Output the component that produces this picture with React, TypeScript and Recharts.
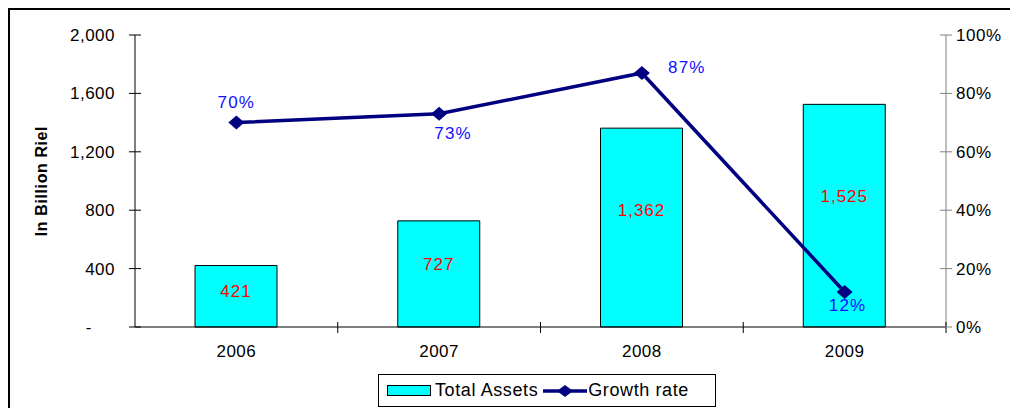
import { Bar, ComposedChart, LabelList, Line, XAxis, YAxis } from "recharts";

const years = ["2006", "2007", "2008", "2009"];
const totalAssets = [421, 727, 1362, 1525];
const growthRate = [70, 73, 87, 12];
const assetTicks = [0, 400, 800, 1200, 1600, 2000];
const rateTicks = [0, 20, 40, 60, 80, 100];

const data = years.map((year, i) => ({ year, assets: totalAssets[i], growth: growthRate[i] }));

// placement of growth labels, as in the original sheet
const rateLabelPos = ["above", "belowRight", "right", "below"];

const W = 1008;
const H = 357;
const PLOT_LEFT = 125;
const PLOT_RIGHT = 936;
const PLOT_BOTTOM = 317;
const FONT = "'Liberation Sans', Arial, sans-serif";
const TICK_FONT = { fontSize: 17, letterSpacing: 0.5, fontFamily: FONT };

const fmt = (v: number) => v.toLocaleString("en-US");

function LeftTick({ y, payload }: any) {
  const v = payload.value as number;
  return (
    <g>
      <line x1={PLOT_LEFT - 6} x2={PLOT_LEFT + 6} y1={y} y2={y} stroke="#000" />
      <text
        x={v === 0 ? PLOT_LEFT - 43 : PLOT_LEFT - 20}
        y={y}
        dy={6}
        textAnchor="end"
        fill="#000"
        style={TICK_FONT}
      >
        {v === 0 ? "-" : fmt(v)}
      </text>
    </g>
  );
}

function RightTick({ y, payload }: any) {
  return (
    <g>
      <line x1={PLOT_RIGHT - 6} x2={PLOT_RIGHT + 6} y1={y} y2={y} stroke="#808080" />
      <text x={PLOT_RIGHT + 10} y={y} dy={6} textAnchor="start" fill="#000" style={TICK_FONT}>
        {payload.value}%
      </text>
    </g>
  );
}

function YearTick({ x, payload }: any) {
  const band = (PLOT_RIGHT - PLOT_LEFT) / years.length;
  const bx = x + band / 2;
  return (
    <g>
      <line x1={bx} x2={bx} y1={PLOT_BOTTOM - 5} y2={PLOT_BOTTOM + 6} stroke="#000" />
      <text x={x} y={PLOT_BOTTOM + 30} textAnchor="middle" fill="#000" style={TICK_FONT}>
        {payload.value}
      </text>
    </g>
  );
}

function Diamond({ cx, cy }: any) {
  if (cx == null || cy == null) return null;
  return <polygon points={`${cx - 8},${cy} ${cx},${cy - 7} ${cx + 8},${cy} ${cx},${cy + 7}`} fill="#000080" />;
}

function AssetLabel({ x, y, width, height, value }: any) {
  return (
    <text
      x={x + width / 2}
      y={y + height * 0.41 + 6}
      textAnchor="middle"
      fill="#FF0000"
      style={{ fontSize: 17, letterSpacing: 1, fontFamily: FONT }}
    >
      {fmt(value)}
    </text>
  );
}

function RateLabel({ x, y, value, index }: any) {
  const pos = rateLabelPos[index];
  let dx = 0;
  let dy = 0;
  if (pos === "above") dy = -21;
  if (pos === "belowRight") {
    dx = 14;
    dy = 19;
  }
  if (pos === "right") {
    dx = 45;
    dy = -6;
  }
  if (pos === "below") {
    dx = 3;
    dy = 13;
  }
  return (
    <text
      x={x + dx}
      y={y + dy + 6}
      textAnchor="middle"
      fill="#1010FF"
      style={{ fontSize: 17, letterSpacing: 1.2, fontFamily: FONT }}
    >
      {value}%
    </text>
  );
}

function YTitle({ viewBox }: any) {
  const cy = viewBox.y + viewBox.height / 2;
  return (
    <text
      x={37}
      y={cy}
      transform={`rotate(-90, 37, ${cy})`}
      textAnchor="middle"
      fontWeight="bold"
      fill="#000"
      style={{ fontSize: 16, letterSpacing: 0.6, fontFamily: FONT }}
    >
      In Billion Riel
    </text>
  );
}

function ChartLegend() {
  return (
    <div
      style={{
        position: "absolute",
        left: 368,
        top: 364,
        width: 338,
        height: 33,
        border: "1px solid #000",
        background: "#fff",
        display: "flex",
        alignItems: "center",
        fontFamily: FONT,
        fontSize: 18,
        letterSpacing: 0.6,
        color: "#000",
        boxSizing: "border-box",
        paddingLeft: 8,
      }}
    >
      <span style={{ display: "inline-block", width: 42, height: 9, background: "#00FFFF", border: "1px solid #000" }} />
      <span style={{ marginLeft: 4 }}>Total Assets</span>
      <svg width={44} height={16} style={{ marginLeft: 5 }}>
        <line x1={0} x2={44} y1={8} y2={8} stroke="#000080" strokeWidth={3.5} />
        <polygon points="14,8 22,2 30,8 22,14" fill="#000080" />
      </svg>
      <span style={{ marginLeft: 1 }}>Growth rate</span>
    </div>
  );
}

export default function App() {
  return (
    <div
      style={{
        position: "relative",
        width: 1010,
        height: 400,
        borderLeft: "2px solid #000",
        borderTop: "2px solid #000",
        fontFamily: FONT,
      }}
    >
      <ComposedChart width={W} height={H} data={data} margin={{ top: 25, right: 0, bottom: 0, left: 0 }}>
        <XAxis
          dataKey="year"
          height={40}
          axisLine={{ stroke: "#000" }}
          tickLine={false}
          tick={<YearTick />}
          interval={0}
        />
        <YAxis
          yAxisId="left"
          width={125}
          domain={[0, 2000]}
          ticks={assetTicks}
          axisLine={{ stroke: "#000" }}
          tickLine={false}
          tick={<LeftTick />}
          label={<YTitle />}
        />
        <YAxis
          yAxisId="right"
          orientation="right"
          width={72}
          domain={[0, 100]}
          ticks={rateTicks}
          axisLine={{ stroke: "#808080" }}
          tickLine={false}
          tick={<RightTick />}
        />
        <Bar yAxisId="left" dataKey="assets" fill="#00FFFF" stroke="#000" strokeWidth={1} barSize={82} isAnimationActive={false}>
          <LabelList dataKey="assets" content={<AssetLabel />} />
        </Bar>
        <Line
          yAxisId="right"
          dataKey="growth"
          stroke="#000080"
          strokeWidth={3.5}
          dot={<Diamond />}
          activeDot={false}
          isAnimationActive={false}
        >
          <LabelList dataKey="growth" content={<RateLabel />} />
        </Line>
      </ComposedChart>
      <ChartLegend />
    </div>
  );
}
